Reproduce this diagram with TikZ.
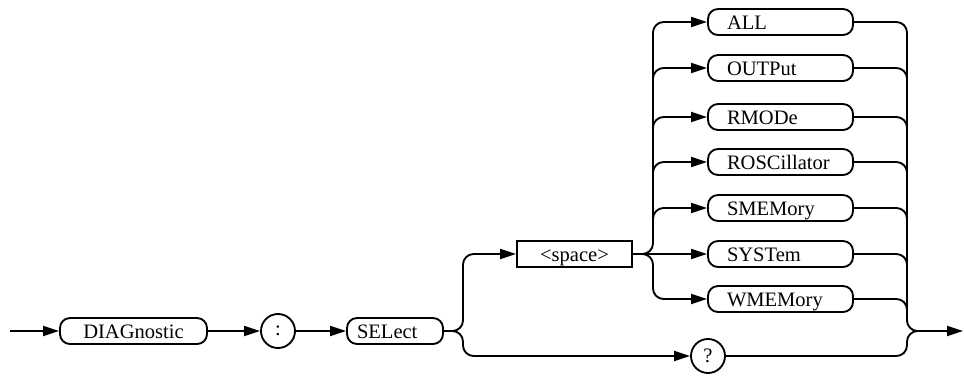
\documentclass[tikz,border=0pt]{standalone}
\usepackage{fontspec}
\setmainfont{Liberation Serif}
\usetikzlibrary{arrows.meta}
\newcommand{\fs}{\fontsize{15.4}{18}\selectfont}
\newcommand{\lbox}[2]{\makebox[#1][l]{#2}}
\begin{document}
\begin{tikzpicture}[x=0.75pt,y=-0.75pt,
  line width=1.4pt,
  kw/.style={draw, rounded corners=7.5pt, minimum height=19.5pt, inner sep=0pt,
     text height=10.5pt, text depth=0pt, font=\fs},
  opt/.style={kw, inner xsep=14.25pt},
  lit/.style={draw, circle, minimum size=25.5pt, inner sep=0pt, font=\fs},
  sq/.style={draw, minimum height=19.5pt, minimum width=86.25pt, inner sep=0pt,
     text height=10.5pt, text depth=0pt, font=\fs},
  arr/.style={-{Triangle[length=12pt,width=7.5pt]}},
  rr/.style={rounded corners=8pt}]
\useasboundingbox (0,0) rectangle (964,375);
\coordinate (start) at (10,331);
\node[kw, minimum width=110.25pt] (diag) at (133.5,331) {DIAGnostic};
\node[lit] (colon) at (278,331) {:};
\node[kw, inner xsep=7.5pt] (sel) at (395,331) {\lbox{57pt}{SELect}};
\node[sq] (space) at (574.5,254) {<space>};
\node[lit] (q) at (708,356) {?};
\node[opt] (all) at (780.5,22) {\lbox{80.25pt}{ALL}};
\node[opt] (outp) at (780.5,68) {\lbox{80.25pt}{OUTPut}};
\node[opt] (rmod) at (780.5,117) {\lbox{80.25pt}{RMODe}};
\node[opt] (rosc) at (780.5,162) {\lbox{80.25pt}{ROSCillator}};
\node[opt] (smem) at (780.5,208) {\lbox{80.25pt}{SMEMory}};
\node[opt] (syst) at (780.5,254) {\lbox{80.25pt}{SYSTem}};
\node[opt] (wmem) at (780.5,299) {\lbox{80.25pt}{WMEMory}};
\coordinate (j1) at (453,331);
\coordinate (j2) at (643,254);
\coordinate (j3) at (918,331);
\coordinate (finish) at (963,331);
% main line
\draw[arr] (start) -- (diag);
\draw[arr] (diag) -- (colon);
\draw[arr] (colon) -- (sel);
\draw (sel) -- (j1);
\draw[arr, rr] (j1) -| (463,254) -- (space);
\draw[arr, rr] (j1) -| (463,356) -- (q);
% options left side
\draw (space) -- (j2);
\draw[arr] (j2) -- (syst);
\draw[arr, rr] (j2) -| (653,22) -- (all);
\draw[arr, rr] (j2) -| (653,299) -- (wmem);
\draw[arr, rr] (653,95) |- (outp);
\draw[arr, rr] (653,140) |- (rmod);
\draw[arr, rr] (653,185) |- (rosc);
\draw[arr, rr] (653,235) |- (smem);
% options right side
\draw[rr] (all) -| (907,331) -- (j3);
\draw[rr] (outp) -| (907,95);
\draw[rr] (rmod) -| (907,140);
\draw[rr] (rosc) -| (907,185);
\draw[rr] (smem) -| (907,235);
\draw[rr] (syst) -| (907,280);
\draw[rr] (wmem) -| (907,322);
\draw[rr] (q) -| (907,331) -- (j3);
\draw[arr] (j3) -- (finish);
\end{tikzpicture}
\end{document}
